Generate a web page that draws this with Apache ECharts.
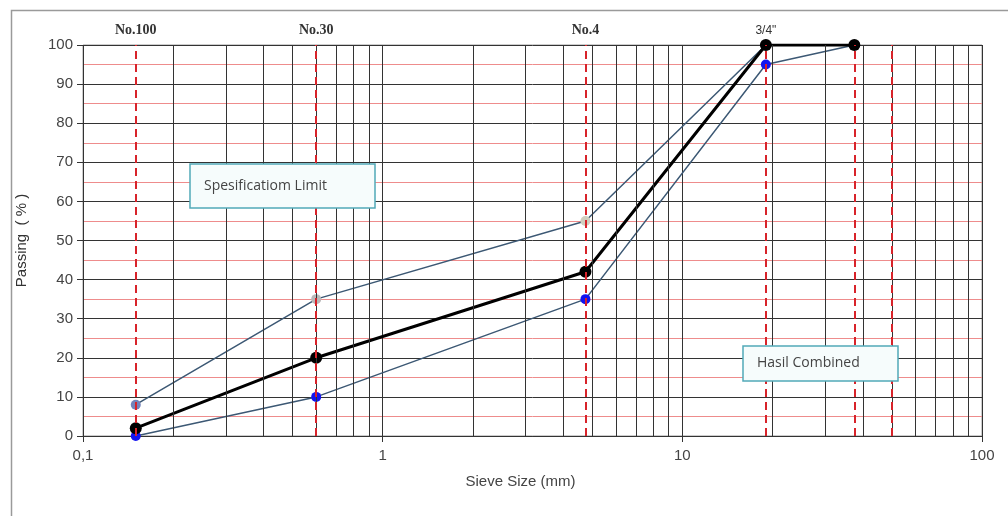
<!DOCTYPE html>
<html>
<head>
<meta charset="utf-8">
<script src="https://cdn.jsdelivr.net/npm/echarts@6/dist/echarts.min.js"></script>
<style>
  html, body { margin: 0; padding: 0; background: #fff; }
  #chart { width: 1008px; height: 516px; }
</style>
</head>
<body>
<div id="chart"></div>
<script>
// sieve sizes (mm) and passing (%)
var sieveSizes = [0.15, 0.6, 4.75, 19, 37.5];
var upperLimit = [8, 35, 55, 100, 100];
var lowerLimit = [0, 10, 35, 95, 100];
var combined = [2, 20, 42, 100, 100];

// red dashed reference lines + their names on top
var refSizes = [0.15, 0.6, 4.75, 19, 37.5, 50];
var refNames = ["No.100", "No.30", "No.4", "3/4\"", "", ""];

// log grid: 2..9 in each decade
var minorMult = [2, 3, 4, 5, 6, 7, 8, 9];
var decades = [0.1, 1, 10];
var yTicks = [0, 10, 20, 30, 40, 50, 60, 70, 80, 90, 100];

var minorGrid = [];
decades.forEach(function (d) {
  minorMult.forEach(function (m) {
    minorGrid.push({ xAxis: m * d });
  });
});

function pairs(ys) {
  return sieveSizes.map(function (s, i) { return [s, ys[i]]; });
}

var upperMarkerColors = ["#7383bb", "#b9b9b9", "#cfcfbf", "#000", "#000"];

// text box drawn on top of the grid
function noteBox(x, y, w, h, text) {
  return [
    {
      type: "rect",
      z: 100,
      shape: { x: x, y: y, width: w, height: h },
      style: { fill: "#f6fcfc", stroke: "#52a9b8", lineWidth: 1.5 },
    },
    {
      type: "text",
      z: 101,
      x: x + 14,
      y: y + h / 2,
      style: {
        text: text,
        font: "14px 'Open Sans', sans-serif",
        fill: "#444",
        verticalAlign: "middle",
      },
    },
  ];
}

var myChart = echarts.init(document.getElementById("chart"));
var option = {
  animation: false,
  backgroundColor: "#fff",
  textStyle: { fontFamily: "Liberation Sans, Arial, sans-serif" },
  grid: {
    left: 83,
    right: 26,
    top: 45,
    bottom: 80,
    show: true,
    borderColor: "#9a9a9a",
    borderWidth: 1,
    backgroundColor: "#fff",
  },
  xAxis: {
    type: "log",
    logBase: 10,
    min: 0.1,
    max: 100,
    name: "Sieve Size (mm)",
    nameLocation: "middle",
    nameGap: 38,
    nameTextStyle: { fontSize: 15, color: "#444", padding: [0, 24, 0, 0] },
    axisLine: { show: true, onZero: false, lineStyle: { color: "#333" } },
    axisTick: { show: true, length: 6, lineStyle: { color: "#333" } },
    axisLabel: {
      fontSize: 15,
      color: "#444",
      margin: 12,
      formatter: function (v) {
        return String(v).replace(".", ",");
      },
    },
    splitLine: { show: true, lineStyle: { color: "#333", width: 1 } },
  },
  yAxis: {
    type: "value",
    min: 0,
    max: 100,
    interval: 10,
    name: "Passing  ( % )",
    nameLocation: "middle",
    nameGap: 54,
    nameTextStyle: { fontSize: 15, color: "#333" },
    axisLine: { show: false },
    axisTick: { show: true, length: 6, lineStyle: { color: "#333" } },
    axisLabel: {
      fontSize: 15,
      color: "#444",
      margin: 10,
      formatter: function (v) {
        return yTicks.indexOf(v) >= 0 ? String(v) : "";
      },
    },
    splitLine: { show: true, lineStyle: { color: "#333", width: 1 } },
    minorTick: { show: false, splitNumber: 2 },
    minorSplitLine: { show: true, lineStyle: { color: "#ee8c8c", width: 1 } },
  },
  graphic: [
    {
      type: "rect",
      left: 9,
      top: 8,
      z: 100,
      shape: { width: 1100, height: 600 },
      style: { fill: "none", stroke: "#9a9a9a", lineWidth: 1.5 },
    },
  ]
    .concat(noteBox(190, 164, 185, 44, "Spesificatiom Limit"))
    .concat(noteBox(743, 346, 155, 35, "Hasil Combined")),
  series: [
    {
      name: "grid",
      type: "line",
      data: [],
      silent: true,
      z: 1,
      markLine: {
        silent: true,
        symbol: "none",
        animation: false,
        label: { show: false },
        lineStyle: { color: "#333", width: 1, type: "solid" },
        data: minorGrid,
      },
    },
    {
      name: "sieve",
      type: "line",
      data: [],
      silent: true,
      z: 2,
      markLine: {
        silent: true,
        symbol: "none",
        animation: false,
        lineStyle: { color: "#d8232a", width: 2, type: [8, 5] },
        label: {
          position: "end",
          distance: 8,
          fontFamily: "Liberation Serif, Times New Roman, serif",
          fontWeight: "bold",
          fontSize: 14,
          color: "#333",
        },
        data: refSizes.map(function (s, i) {
          var lbl = { show: refNames[i] !== "", formatter: refNames[i] };
          // the inch label is set in a plain sans font
          if (refNames[i].indexOf('"') >= 0) {
            lbl.fontFamily = "Liberation Sans, Arial, sans-serif";
            lbl.fontWeight = "normal";
            lbl.fontSize = 12;
          }
          return { xAxis: s, label: lbl };
        }),
      },
    },
    {
      name: "Lower",
      type: "line",
      z: 3,
      data: pairs(lowerLimit),
      symbol: "circle",
      symbolSize: 10,
      lineStyle: { color: "#3c5874", width: 1.5 },
      itemStyle: { color: "#1414f0" },
    },
    {
      name: "Upper",
      type: "line",
      z: 3,
      data: pairs(upperLimit),
      symbol: "circle",
      symbolSize: 10,
      lineStyle: { color: "#3c5874", width: 1.5 },
      itemStyle: {
        color: function (p) {
          return upperMarkerColors[p.dataIndex];
        },
      },
    },
    {
      name: "Combined",
      type: "line",
      z: 4,
      data: pairs(combined),
      symbol: "circle",
      symbolSize: 12,
      lineStyle: { color: "#000", width: 3 },
      itemStyle: { color: "#000" },
    },
  ],
};
myChart.setOption(option);
</script>
</body>
</html>
